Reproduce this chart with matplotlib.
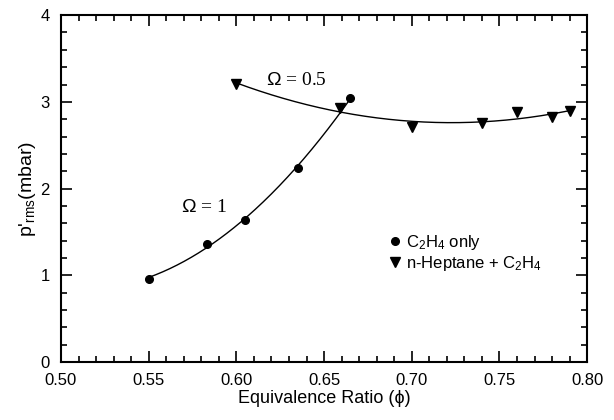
import matplotlib.pyplot as plt
import numpy as np
from matplotlib.ticker import MultipleLocator

# data
phi_c2h4 = [0.55, 0.583, 0.605, 0.635, 0.665]
p_c2h4 = [0.96, 1.36, 1.64, 2.24, 3.05]

phi_hept = [0.60, 0.659, 0.70, 0.74, 0.76, 0.78, 0.79]
p_hept = [3.21, 2.93, 2.71, 2.76, 2.88, 2.82, 2.90]

plt.rcParams['font.family'] = ['Liberation Sans', 'DejaVu Sans']
plt.rcParams['mathtext.fontset'] = 'custom'
plt.rcParams['mathtext.rm'] = 'Liberation Sans'
plt.rcParams['mathtext.it'] = 'Liberation Sans'

fig = plt.figure(figsize=[6.14, 4.2], dpi=100)
ax = fig.add_axes([0.0993, 0.138, 0.857, 0.826])

# quadratic fits through the points
for xs, ys in [(phi_c2h4, p_c2h4), (phi_hept, p_hept)]:
    c = np.polyfit(xs, ys, 2)
    xx = np.linspace(min(xs), max(xs), 200)
    ax.plot(xx, np.polyval(c, xx), color='black', lw=1.0)

ax.plot(phi_c2h4, p_c2h4, 'o', color='black', ms=5.5, ls='none',
        label=r'C$_2$H$_4$ only')
ax.plot(phi_hept, p_hept, 'v', color='black', ms=7, ls='none',
        label=r'n-Heptane + C$_2$H$_4$')

ax.text(0.634, 3.25, r'$\Omega$ = 0.5', family='Liberation Serif',
        fontsize=14, ha='center', va='center')
ax.text(0.5815, 1.78, r'$\Omega$ = 1', family='Liberation Serif',
        fontsize=14, ha='center', va='center')

ax.set_xlim(0.50, 0.80)
ax.set_ylim(0, 4)
ax.set_xticks(np.arange(0.50, 0.801, 0.05))
ax.set_xticklabels(['%.2f' % v for v in np.arange(0.50, 0.801, 0.05)])
ax.xaxis.set_minor_locator(MultipleLocator(0.01))
ax.yaxis.set_major_locator(MultipleLocator(1))
ax.yaxis.set_minor_locator(MultipleLocator(0.2))
ax.tick_params(which='both', direction='in', top=True, right=True,
               labelsize=12, width=1.2)
ax.tick_params(which='major', length=8)
ax.tick_params(which='minor', length=4)
ax.tick_params(axis='x', pad=8)
ax.tick_params(axis='y', pad=8)
for s in ax.spines.values():
    s.set_linewidth(1.5)

ax.set_xlabel('Equivalence Ratio (\u03d5)', fontsize=13, labelpad=1)
ax.set_ylabel(r"p$'_{\rm rms}$(mbar)", fontsize=14, labelpad=2)

ax.legend(loc='center left', bbox_to_anchor=(0.59, 0.315), frameon=False,
          fontsize=12, handletextpad=0.2, labelspacing=0.1,
          handlelength=1.0)

plt.savefig('out.png', dpi=100)
